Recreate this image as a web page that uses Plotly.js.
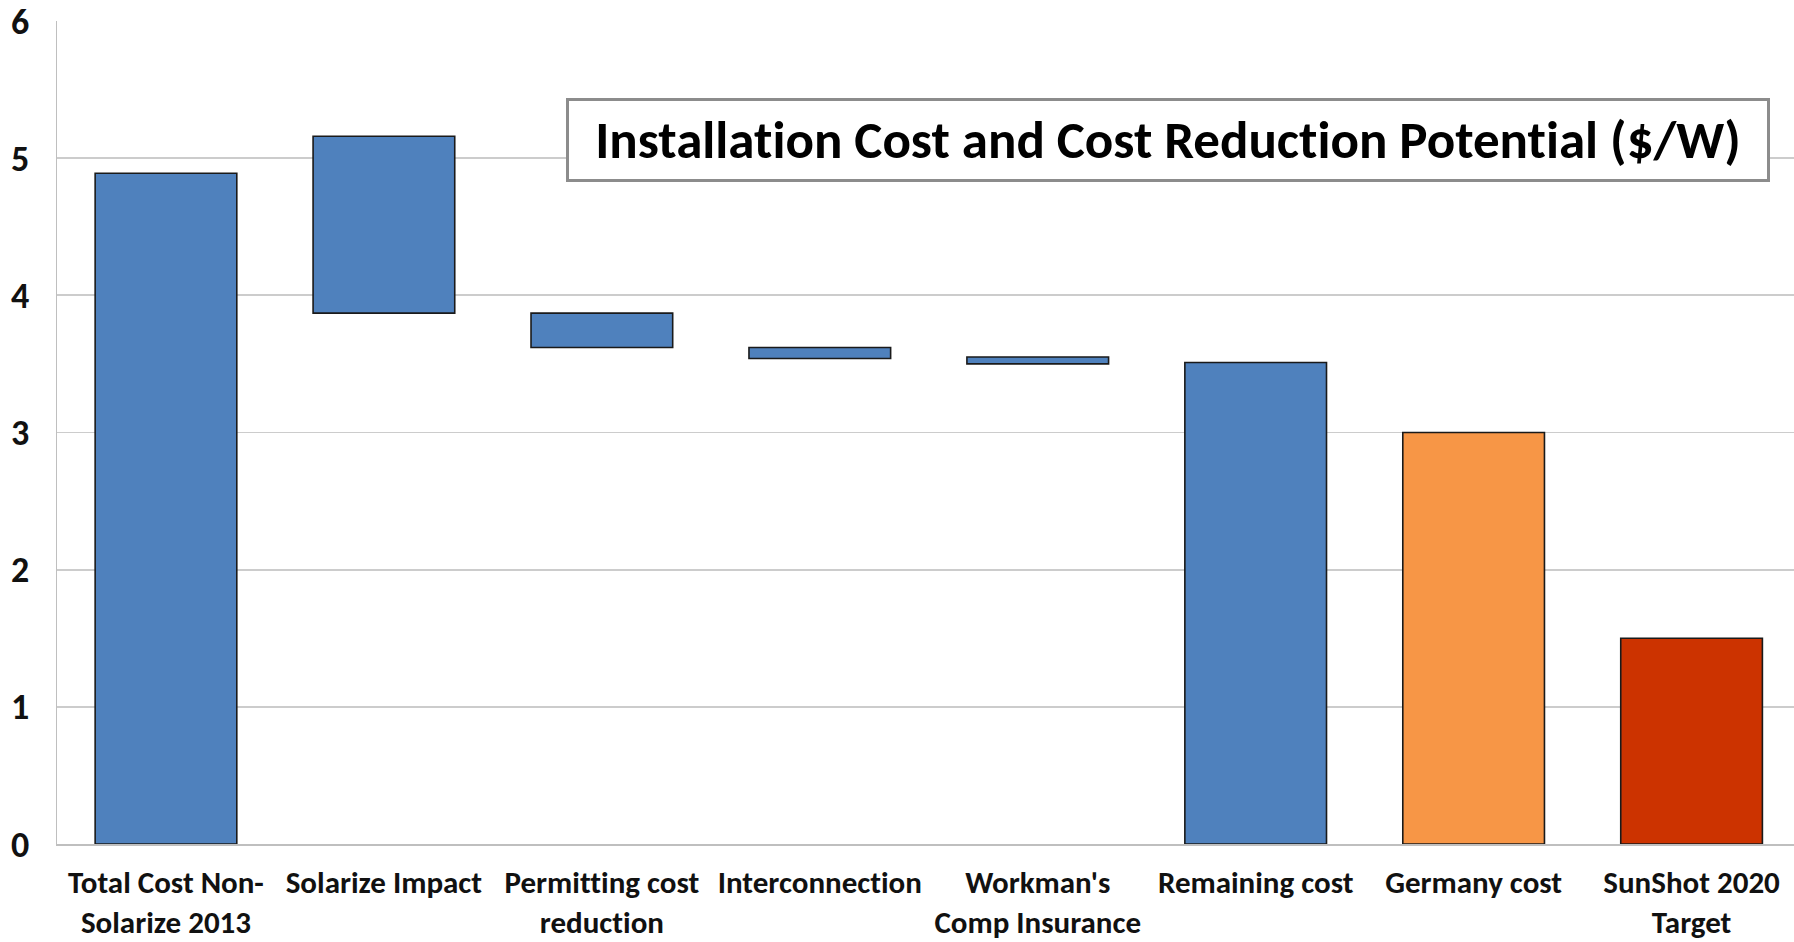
<!DOCTYPE html>
<html>
<head>
<meta charset="utf-8">
<script src="https://cdn.plot.ly/plotly-3.0.1.min.js"></script>
<style>html,body{margin:0;padding:0;background:#fff;}#chart{width:1794px;height:942px;}
text{font-variant-ligatures:none;font-feature-settings:"liga" 0;}</style>
</head>
<body>
<div id="chart"></div>
<script>
// Data ($/W)
const categories = [
  "Total Cost Non-<br>Solarize 2013",
  "Solarize Impact",
  "Permitting cost<br>reduction",
  "Interconnection",
  "Workman's<br>Comp Insurance",
  "Remaining cost",
  "Germany cost",
  "SunShot 2020<br>Target"
];
const barTop    = [4.89, 5.16, 3.87, 3.62, 3.55, 3.51, 3.00, 1.50];
const barBottom = [0,    3.87, 3.62, 3.54, 3.50, 0,    0,    0   ];
const barColors = ["#4F81BD","#4F81BD","#4F81BD","#4F81BD","#4F81BD","#4F81BD","#F79646","#CC3300"];
const yTicks = [0, 1, 2, 3, 4, 5, 6];
const chartTitle = "Installation Cost and Cost Reduction Potential ($/W)";

const FONT = "Carlito, Lato, 'Open Sans', sans-serif";

const trace = {
  type: "bar",
  x: categories.map((c, i) => i),
  y: barTop.map((t, i) => t - barBottom[i]),
  base: barBottom,
  width: 0.65,
  marker: { color: barColors, line: { color: "#1a1a1a", width: 1.6 } },
  hoverinfo: "skip"
};

const layout = {
  width: 1794,
  height: 942,
  margin: { l: 57, r: 0, t: 21, b: 98 },
  paper_bgcolor: "#ffffff",
  plot_bgcolor: "#ffffff",
  showlegend: false,
  font: { family: FONT, color: "#111111" },
  xaxis: {
    range: [-0.5, 7.47],
    tickmode: "array",
    tickvals: categories.map((c, i) => i),
    ticktext: categories,
    tickfont: { family: FONT, size: 31, color: "#111111", weight: "bold" },
    ticks: "",
    ticklabelstandoff: 10,
    ticklabeloverflow: "allow",
    showgrid: false,
    zeroline: false,
    showline: true,
    linecolor: "#BFBFBF",
    linewidth: 1.5,
    fixedrange: true
  },
  yaxis: {
    range: [0, 6],
    tickmode: "array",
    tickvals: yTicks,
    ticktext: yTicks.map(String),
    tickfont: { family: FONT, size: 36, color: "#111111", weight: "bold" },
    ticks: "",
    ticklabelstandoff: 19,
    ticklabeloverflow: "allow",
    showgrid: true,
    gridcolor: "#CCCCCC",
    gridwidth: 1.8,
    zeroline: false,
    showline: true,
    linecolor: "#BFBFBF",
    linewidth: 1.5,
    fixedrange: true
  },
  annotations: [{
    text: "<b>" + chartTitle + "</b>",
    xref: "paper", yref: "paper",
    x: 0.6396, y: 0.856,
    xanchor: "center", yanchor: "middle",
    showarrow: false,
    width: 1180,
    height: 60,
    font: { family: FONT, size: 53, color: "#000000" },
    bgcolor: "#ffffff",
    bordercolor: "#8C8C8C",
    borderwidth: 3,
    borderpad: 9
  }]
};

Plotly.newPlot("chart", [trace], layout, { displayModeBar: false, staticPlot: true });
</script>
</body>
</html>
